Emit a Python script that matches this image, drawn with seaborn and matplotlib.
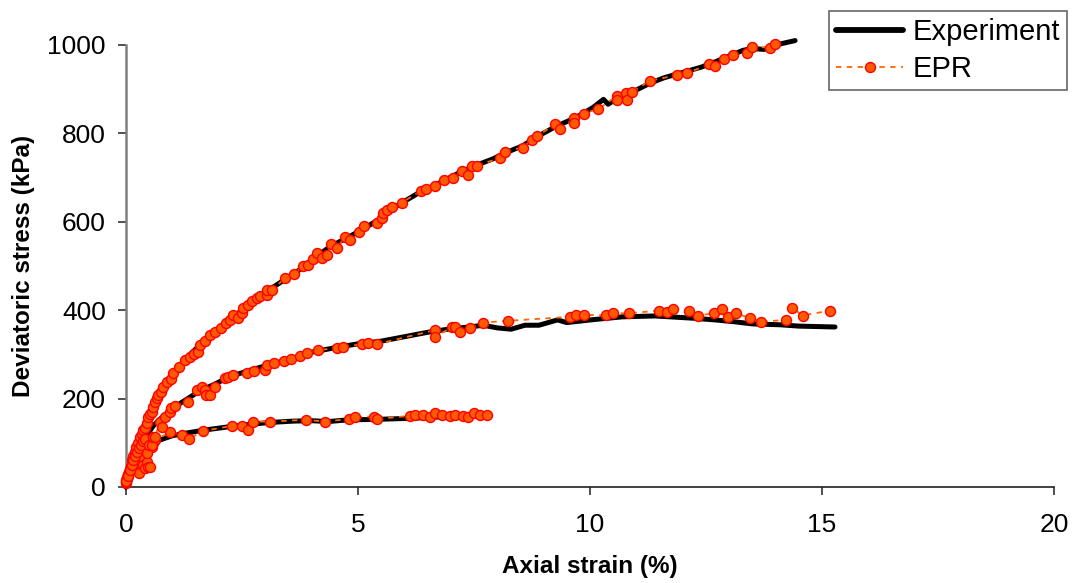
import matplotlib
matplotlib.use("Agg")
import matplotlib.pyplot as plt
from matplotlib.lines import Line2D
import seaborn as sns
import pandas as pd

# ---------------- data ----------------
# Experiment curves (axial strain %, deviatoric stress kPa)
exp_high_x = [0, 0.05, 0.1, 0.15, 0.2, 0.3, 0.4, 0.5, 0.6, 0.7, 0.8, 1.0, 1.2, 1.4, 1.6, 1.8, 2.0, 2.25,
              2.5, 2.8, 3.0, 3.4, 3.6, 3.9, 4.15, 4.4, 4.75, 5.05, 5.4, 5.65, 5.9, 6.3, 6.7, 7.2, 7.5,
              7.9, 8.2, 8.55, 8.85, 9.25, 9.7, 10.07, 10.29, 10.39, 10.6, 10.9, 11.3, 11.6, 12.0, 12.4,
              12.7, 13.0, 13.3, 13.5, 13.75, 14.0, 14.42]
exp_high_y = [0, 25, 50, 72, 90, 115, 142, 168, 192, 212, 228, 255, 280, 302, 322, 342, 360, 380,
              400, 424, 440, 468, 482, 502, 525, 544, 563, 580, 602, 622, 640, 665, 685, 712, 726,
              742, 757, 772, 792, 815, 836, 859, 877, 866, 880, 893, 914, 926, 938, 950,
              962, 975, 988, 992, 990, 1000, 1010]

exp_mid_x = [0, 0.1, 0.2, 0.3, 0.4, 0.5, 0.6, 0.75, 1.0, 1.3, 1.6, 1.9, 2.2, 2.6, 3.0, 3.5, 4.0, 4.5,
             5.0, 5.5, 6.0, 6.5, 7.0, 7.4, 7.7, 8.0, 8.3, 8.6, 8.9, 9.3, 9.5, 10.1, 10.7, 11.4, 12.2,
             12.7, 13.1, 13.5, 14.1, 14.5, 15.28]
exp_mid_y = [0, 35, 60, 82, 105, 125, 140, 155, 178, 198, 218, 232, 248, 262, 274, 288, 305, 315,
             324, 330, 340, 350, 358, 362, 366, 360, 357, 366, 366, 378, 372, 379, 385, 387, 382,
             378, 374, 369, 367, 364, 362]

exp_low_x = [0, 0.1, 0.2, 0.3, 0.4, 0.5, 0.6, 0.75, 1.0, 1.3, 1.7, 2.2, 2.7, 3.1, 3.6, 4.0, 4.35,
             4.8, 5.4, 6.0, 6.5, 6.85, 7.3, 7.84]
exp_low_y = [0, 30, 55, 72, 85, 95, 102, 107, 116, 122, 129, 136, 142, 146, 149, 150, 148,
             152, 153, 155, 157, 159, 160, 161]

# EPR predictions
epr_high_x = [0.0, 0.02, 0.04, 0.06, 0.08, 0.1, 0.13, 0.16, 0.19, 0.22, 0.26, 0.3, 0.34, 0.37, 0.41,
              0.45, 0.48, 0.52, 0.55, 0.59, 0.63, 0.66, 0.7, 0.75, 0.8, 0.88, 0.98, 1.02, 1.15, 1.27,
              1.38, 1.47, 1.56, 1.59, 1.7, 1.81, 1.92, 2.05, 2.16, 2.24, 2.31, 2.42, 2.49, 2.53, 2.64,
              2.71, 2.82, 2.89, 3.03, 3.03, 3.14, 3.43, 3.61, 3.82, 3.93, 4.02, 4.12, 4.22, 4.33,
              4.42, 4.54, 4.72, 4.83, 5.03, 5.13, 5.42, 5.52, 5.53, 5.62, 5.73, 5.94, 6.35, 6.46,
              6.66, 6.85, 7.05, 7.25, 7.36, 7.45, 7.56, 8.05, 8.17, 8.56, 8.74, 8.85, 9.25, 9.35,
              9.66, 9.66, 9.86, 10.18, 10.58, 10.58, 10.78, 10.79, 10.9, 11.29, 11.88, 12.08,
              12.57, 12.69, 12.89, 13.09, 13.38, 13.49, 13.88, 13.99]
epr_high_y = [10, 18, 26, 33, 40, 48, 60, 70, 80, 90, 100, 112, 121, 128, 133,
              144, 159, 165, 170, 182, 192, 201, 208, 216, 226, 238, 244, 257, 272, 287,
              295, 300, 306, 321, 330, 344, 351, 360, 370, 378, 389, 382, 393, 404, 412,
              421, 427, 431, 434, 446, 446, 472, 482, 500, 502, 515, 529, 517, 525,
              549, 541, 565, 559, 576, 590, 598, 608, 619, 627, 634, 643, 670, 674,
              681, 695, 698, 716, 706, 726, 727, 744, 759, 768, 785, 793, 821, 809,
              834, 823, 845, 855, 885, 876, 892, 876, 894, 919, 932, 936,
              956, 952, 968, 977, 981, 996, 994, 1002]

epr_mid_x = [0.0, 0.04, 0.08, 0.12, 0.16, 0.2, 0.24, 0.28, 0.32, 0.36, 0.4, 0.45, 0.5, 0.55, 0.59,
             0.63, 0.73, 0.77, 0.84, 0.95, 0.98, 1.06, 1.34, 1.52, 1.63, 1.7, 1.72, 1.8, 1.92, 2.13,
             2.2, 2.31, 2.6, 2.75, 3.0, 3.03, 3.2, 3.4, 3.55, 3.75, 3.9, 4.14, 4.54, 4.68, 5.08,
             5.22, 5.4, 6.66, 6.66, 7.02, 7.09, 7.2, 7.41, 7.7, 8.23, 9.57, 9.69, 9.88, 10.34,
             10.49, 10.83, 11.49, 11.65, 11.78, 12.14, 12.32, 12.68, 12.85, 12.98, 13.15, 13.45,
             13.69, 14.22, 14.35, 14.58, 15.17]
epr_mid_y = [14, 26, 38, 50, 60, 70, 80, 88, 95, 104, 108, 76, 96, 95, 114,
             114, 148, 136, 159, 170, 178, 183, 193, 219, 226, 219, 208, 208, 226, 246,
             250, 253, 258, 262, 265, 276, 280, 285, 290, 296, 303, 310, 314, 317, 323,
             326, 323, 355, 340, 361, 361, 351, 360, 372, 376, 385, 389, 389, 389,
             393, 393, 399, 395, 403, 399, 388, 393, 403, 385, 393, 382,
             374, 378, 406, 388, 399]

epr_low_x = [0.0, 0.01, 0.03, 0.05, 0.09, 0.12, 0.16, 0.19, 0.23, 0.27, 0.3, 0.3, 0.34, 0.37, 0.41,
             0.45, 0.48, 0.52, 0.52, 0.55, 0.59, 0.62, 0.95, 1.2, 1.36, 1.67, 2.28, 2.49, 2.64,
             2.73, 3.1, 3.87, 4.29, 4.81, 4.94, 5.35, 5.42, 6.12, 6.23, 6.41, 6.55, 6.66, 6.8,
             6.98, 7.09, 7.27, 7.38, 7.49, 7.63, 7.77]
epr_low_y = [12, 16, 23, 30, 38, 46, 57, 69, 62, 31, 61, 84, 69, 50, 42,
             57, 46, 46, 95, 90, 100, 106, 124, 118, 109, 127, 138, 138, 130,
             148, 148, 152, 148, 154, 159, 159, 154, 161, 163, 163, 159, 167, 163,
             161, 163, 161, 158, 167, 163, 163]

curve_names = ["high", "mid", "low"]

def frame(xs, ys):
    rows = []
    for name, x, y in zip(curve_names, xs, ys):
        rows.append(pd.DataFrame({"strain": x, "stress": y, "curve": name}))
    return pd.concat(rows, ignore_index=True)

exp_df = frame([exp_high_x, exp_mid_x, exp_low_x], [exp_high_y, exp_mid_y, exp_low_y])
epr_df = frame([epr_high_x, epr_mid_x, epr_low_x], [epr_high_y, epr_mid_y, epr_low_y])

# ---------------- style ----------------
sns.set_theme(style="white")
plt.rcParams["font.family"] = ["Liberation Sans", "DejaVu Sans"]
plt.rcParams["text.color"] = "black"
plt.rcParams["axes.labelcolor"] = "black"

LINE_ORANGE = "#FF6600"
MARK_FILL = "#FF5A00"
MARK_EDGE = "#FF0000"

fig = plt.figure(figsize=(10.76, 5.83), dpi=100)
ax = fig.add_axes([126 / 1076, 1 - 487 / 583, (1054 - 126) / 1076, (487 - 45) / 583])

sns.lineplot(data=exp_df, x="strain", y="stress", units="curve", estimator=None, sort=False,
             color="black", linewidth=3.6, legend=False, ax=ax, clip_on=False, zorder=3,
             solid_capstyle="round")
sns.lineplot(data=epr_df, x="strain", y="stress", units="curve", estimator=None, sort=False,
             color=LINE_ORANGE, linewidth=1.3, linestyle=(0, (3, 3)), marker="o", markersize=7.2,
             markerfacecolor=MARK_FILL, markeredgecolor=MARK_EDGE, markeredgewidth=1.0,
             legend=False, ax=ax, clip_on=False, zorder=4)

ax.set_xlim(0, 20)
ax.set_ylim(0, 1000)
ax.set_xticks([0, 5, 10, 15, 20])
ax.set_yticks([0, 200, 400, 600, 800, 1000])

for side in ["top", "right"]:
    ax.spines[side].set_visible(False)
ax.spines["left"].set_color("#808080")
ax.spines["left"].set_linewidth(1.8)
ax.spines["bottom"].set_color("#202020")
ax.spines["bottom"].set_linewidth(1.2)

ax.tick_params(axis="both", which="major", direction="out", length=5.5, width=1.1,
               color="#202020", labelsize=19, labelcolor="black", left=True, bottom=True)
ax.tick_params(axis="y", pad=9)
ax.tick_params(axis="x", pad=13)

ax.set_xlabel("Axial strain (%)", fontsize=17.5, fontweight="bold", labelpad=13, color="black")
ax.set_ylabel("Deviatoric stress (kPa)", fontsize=17.5, fontweight="bold", labelpad=9,
              color="black")

handles = [
    Line2D([0], [0], color="black", linewidth=4.2),
    Line2D([0], [0], color=LINE_ORANGE, linewidth=1.3, linestyle=(0, (3, 3)), marker="o",
           markersize=7.2, markerfacecolor=MARK_FILL, markeredgecolor=MARK_EDGE,
           markeredgewidth=1.0),
]
leg = fig.legend(handles, ["Experiment", "EPR"], loc="upper right",
                 bbox_to_anchor=(1067 / 1076, 1 - 11 / 583), frameon=True, fancybox=False,
                 shadow=False, fontsize=21, handlelength=2.3, handletextpad=0.3,
                 borderpad=0.25, labelspacing=0.3, borderaxespad=0, numpoints=1)
leg.get_frame().set_edgecolor("#404040")
leg.get_frame().set_linewidth(1.2)
for t in leg.get_texts():
    t.set_color("black")

fig.savefig("out.png", dpi=100, facecolor="white")
